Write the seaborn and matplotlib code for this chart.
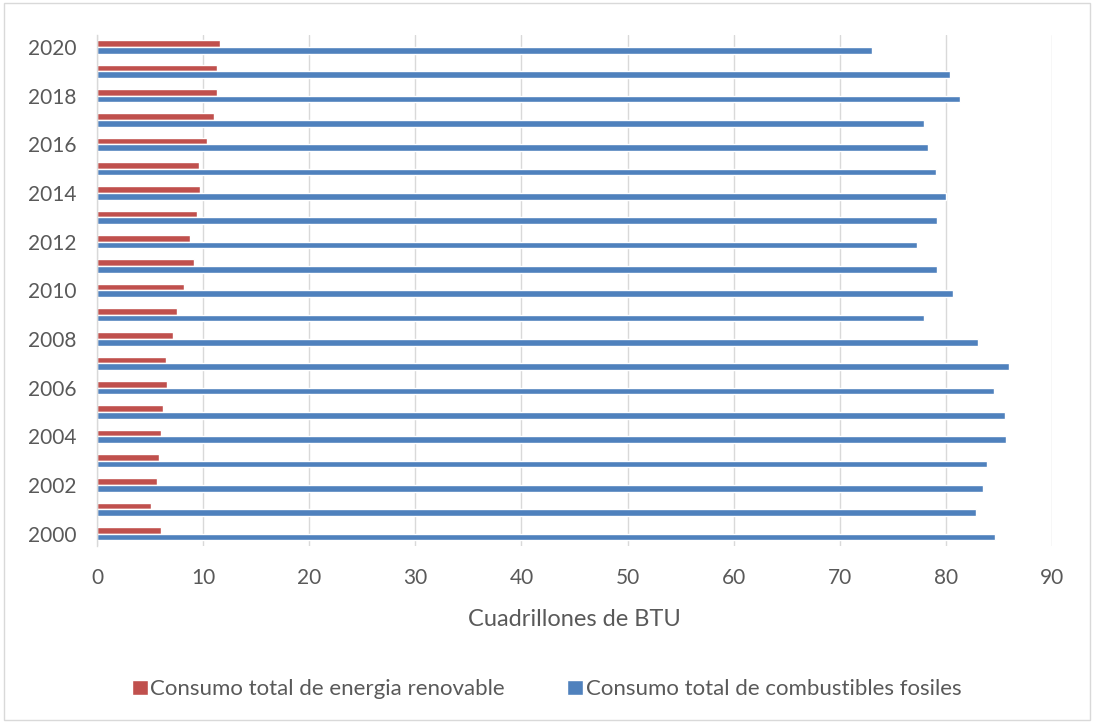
import matplotlib
matplotlib.use("Agg")
import matplotlib.pyplot as plt
import seaborn as sns
import pandas as pd
from matplotlib.patches import Rectangle

years = list(range(2000, 2021))
renovable = [6.03, 5.12, 5.68, 5.87, 6.00, 6.19, 6.60, 6.47, 7.13, 7.57, 8.23,
             9.17, 8.80, 9.43, 9.71, 9.64, 10.34, 11.06, 11.28, 11.34, 11.56]
fosiles = [84.6, 82.8, 83.5, 83.9, 85.7, 85.6, 84.5, 85.9, 83.0, 77.9, 80.7,
           79.2, 77.3, 79.2, 80.0, 79.1, 78.3, 77.9, 81.3, 80.4, 73.0]
series_names = ["Consumo total de energia renovable",
                "Consumo total de combustibles fosiles"]
xlabel = "Cuadrillones de BTU"
xticks = [0, 10, 20, 30, 40, 50, 60, 70, 80, 90]

df = pd.DataFrame({
    "year": [str(y) for y in years] * 2,
    "value": renovable + fosiles,
    "serie": [series_names[0]] * len(years) + [series_names[1]] * len(years),
})

sns.set_theme(style="white")
plt.rcParams["font.family"] = ["Lato", "DejaVu Sans"]
text_color = "#595959"
grid_color = "#D9D9D9"

fig = plt.figure(figsize=(10.93, 7.24), dpi=100)
fig.patches.append(Rectangle((0.004, 0.006), 0.993, 0.99, transform=fig.transFigure,
                             fill=False, edgecolor=grid_color, linewidth=1))
ax = fig.add_axes([0.0887, 0.2459, 0.8738, 0.7058])

order = [str(y) for y in reversed(years)]
sns.barplot(data=df, y="year", x="value", hue="serie", order=order,
            hue_order=series_names, palette=["#C0504D", "#4F81BD"],
            width=0.55, ax=ax, orient="h", legend=True, saturation=1)

ax.set_xlim(0, 90)
ax.set_xticks(xticks)
ax.set_xticklabels([str(t) for t in xticks], fontsize=15, color=text_color)
ax.set_yticks(range(len(order)))
ax.set_yticklabels([y if int(y) % 2 == 0 else "" for y in order],
                   fontsize=15, color=text_color)
ax.tick_params(axis="y", length=0, pad=15)
ax.tick_params(axis="x", length=0, pad=16)
ax.set_ylabel("")
ax.set_xlabel(xlabel, fontsize=17, color=text_color, labelpad=15)
ax.grid(axis="x", color=grid_color, linewidth=1)
ax.set_axisbelow(True)
for s in ["top", "right", "bottom"]:
    ax.spines[s].set_visible(False)
ax.spines["left"].set_color(grid_color)
ax.spines["left"].set_linewidth(1)

handles, labels = ax.get_legend_handles_labels()
ax.legend_.remove()
fig.legend(handles, labels, loc="center", bbox_to_anchor=(0.5, 0.048), ncol=2,
           frameon=False, fontsize=16, labelcolor=text_color,
           handlelength=0.72, handleheight=0.72, handletextpad=0.12,
           columnspacing=2.8)

fig.savefig("out.png", dpi=100)
